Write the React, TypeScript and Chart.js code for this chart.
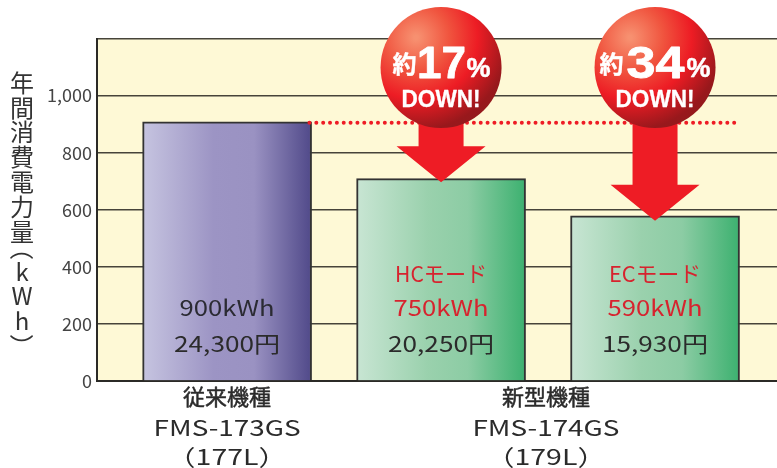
import React, { useEffect, useRef } from "react";
import { Chart, registerables } from "chart.js";

Chart.register(...registerables);

const barX = [0, 1, 2];
const barValues = [908, 709, 579];
const referenceValue = 905;
const dottedX = [0.385, 2.385];
const yMin = 0;
const yMax = 1200;
const yStep = 200;
const xTickValues = [0, 1.49];
const xTickLabels = [
  ["従来機種", "FMS-173GS", "（177L）"],
  ["新型機種", "FMS-174GS", "（179L）"],
];
const yTitleChars = ["年", "間", "消", "費", "電", "力", "量", "（", "k", "W", "h", "）"];
const barModes = ["", "HCモード", "ECモード"];
const barKwh = ["900kWh", "750kWh", "590kWh"];
const barYen = ["24,300円", "20,250円", "15,930円"];
const downBars = [1, 2];
const downPercents = ["17", "34"];

const FONT = '"Noto Sans CJK JP", "Noto Sans", sans-serif';
const BOLD = '"Liberation Sans", "Noto Sans CJK JP", sans-serif';

function fitText(ctx: CanvasRenderingContext2D, text: string, cx: number, y: number, width: number, stroke = 0) {
  const w = ctx.measureText(text).width;
  ctx.save();
  ctx.translate(cx, y);
  ctx.scale(width / w, 1);
  ctx.textAlign = "center";
  ctx.fillText(text, 0, 0);
  if (stroke > 0) {
    ctx.strokeStyle = ctx.fillStyle;
    ctx.lineWidth = stroke;
    ctx.lineJoin = "round";
    ctx.strokeText(text, 0, 0);
  }
  ctx.restore();
}

const decor = {
  id: "decor",
  beforeDraw(chart: any) {
    const { ctx, chartArea: a } = chart;
    ctx.save();
    ctx.fillStyle = "#FEF9D6";
    ctx.fillRect(a.left, a.top, a.right - a.left, a.bottom - a.top);
    ctx.restore();
  },
  afterDatasetsDraw(chart: any) {
    const { ctx, scales } = chart;
    const sx = scales.x;
    const sy = scales.y;
    ctx.save();
    ctx.textBaseline = "alphabetic";

    // y title
    ctx.fillStyle = "#333";
    ctx.font = `24px ${FONT}`;
    ctx.textAlign = "center";
    ctx.textBaseline = "middle";
    const titleYs = [83, 108, 132, 157, 182, 207, 232, 248, 272, 295.5, 321, 346];
    yTitleChars.forEach((c, i) => {
      ctx.save();
      ctx.translate(22, titleYs[i]);
      if (c === "（" || c === "）") ctx.rotate(Math.PI / 2);
      ctx.fillText(c, 0, 0);
      ctx.restore();
    });
    ctx.textBaseline = "alphabetic";

    // labels inside bars
    barX.forEach((x, i) => {
      const cx = sx.getPixelForValue(x);
      ctx.font = `22px ${FONT}`;
      if (barModes[i]) {
        ctx.fillStyle = "#D7232E";
        fitText(ctx, barModes[i], cx, 282, 92);
      }
      ctx.fillStyle = i === 0 ? "#2B2B33" : "#D7232E";
      fitText(ctx, barKwh[i], cx, 316, 95);
      ctx.fillStyle = "#2B2B2B";
      fitText(ctx, barYen[i], cx, 352, 106);
    });

    // arrows and balls
    const tipGap = [3.5, 5];
    const yakuDx = [-36.5, -43.5];
    const pctDx = [37.5, 43.5];
    downBars.forEach((b, i) => {
      const cx = sx.getPixelForValue(barX[b]);
      const tip = sy.getPixelForValue(barValues[b]) + tipGap[i];
      const ballY = 67.5;
      const r = 60.5;
      ctx.fillStyle = "#EE1C25";
      ctx.beginPath();
      ctx.moveTo(cx - 22.5, ballY);
      ctx.lineTo(cx + 22.5, ballY);
      ctx.lineTo(cx + 22.5, tip - 36);
      ctx.lineTo(cx + 44.5, tip - 36);
      ctx.lineTo(cx, tip);
      ctx.lineTo(cx - 44.5, tip - 36);
      ctx.lineTo(cx - 22.5, tip - 36);
      ctx.closePath();
      ctx.fill();

      const g = ctx.createRadialGradient(cx - 25, ballY - 30, 2, cx - 25, ballY - 30, 105);
      g.addColorStop(0, "#F79070");
      g.addColorStop(0.3, "#F0553F");
      g.addColorStop(0.58, "#ED1C24");
      g.addColorStop(0.88, "#98181C");
      g.addColorStop(1, "#921A1C");
      ctx.fillStyle = g;
      ctx.beginPath();
      ctx.arc(cx, ballY, r, 0, Math.PI * 2);
      ctx.fill();

      ctx.fillStyle = "#FFFFFF";
      ctx.font = `bold 24px ${BOLD}`;
      fitText(ctx, "約", cx + yakuDx[i], 73, 24, 0.4);
      ctx.font = `bold 45px ${BOLD}`;
      fitText(ctx, downPercents[i], cx + 0.5, 78, i === 0 ? 49 : 58, 0.8);
      ctx.font = `bold 28px ${BOLD}`;
      fitText(ctx, "%", cx + pctDx[i], 77, 24, 0.5);
      ctx.font = `bold 23px ${BOLD}`;
      fitText(ctx, "DOWN!", cx, 107, 79, 0.3);
    });
    ctx.restore();
  },
};

const tickLineWidths = [88, 147, 120];
const tickLineYs = [405, 435.6, 465];
const tickLineStroke = [0.5, 0, 0];

export default function App() {
  const ref = useRef<HTMLCanvasElement>(null);
  useEffect(() => {
    document.body.style.margin = "0";
    document.body.style.background = "#fff";
    const stops = [
      ["#C6C4E0", "#9C94C4", "#9A92C2", "#514A8A"],
      ["#C8E5D3", "#9AD1AD", "#8CCCA4", "#3DB170"],
    ];
    const chart = new Chart(ref.current!, {
      type: "bar",
      data: {
        datasets: [
          {
            type: "line",
            data: dottedX.map((x) => ({ x, y: referenceValue })),
            borderColor: "#EE1C25",
            borderWidth: 4,
            borderDash: [0, 6.85],
            borderCapStyle: "round",
            pointRadius: 0,
            order: 0,
          },
          {
            type: "bar",
            data: barX.map((x, i) => ({ x, y: barValues[i] })),
            barThickness: 169,
            borderColor: "#333333",
            borderWidth: 2,
            order: 1,
            backgroundColor: (c: any) => {
              const ch = c.chart;
              if (!ch.chartArea || c.dataIndex === undefined) return "#999";
              const cx = ch.scales.x.getPixelForValue(barX[c.dataIndex]);
              const g = ch.ctx.createLinearGradient(cx - 84, 0, cx + 84, 0);
              const s = stops[c.dataIndex === 0 ? 0 : 1];
              g.addColorStop(0, s[0]);
              g.addColorStop(0.42, s[1]);
              g.addColorStop(0.66, s[2]);
              g.addColorStop(1, s[3]);
              return g;
            },
          },
        ],
      } as any,
      options: {
        responsive: false,
        animation: false,
        layout: { padding: { top: 38.5, left: 0, right: 0, bottom: 0 } },
        plugins: { legend: { display: false }, tooltip: { enabled: false }, title: { display: false } },
        scales: {
          x: {
            type: "linear",
            offset: false,
            min: -0.608,
            max: 2.57,
            grid: { display: false, offset: false },
            border: { color: "#2B2A26", width: 2 },
            afterFit: (s: any) => {
              s.height = 87;
            },
            afterBuildTicks: (s: any) => {
              s.ticks = xTickValues.map((value) => ({ value }));
            },
            afterUpdate: (s: any) => {
              s.drawLabels = () => {
                const ctx = s.ctx;
                ctx.save();
                ctx.fillStyle = "#2B2B2B";
                ctx.textBaseline = "alphabetic";
                ctx.font = `22px ${FONT}`;
                s.ticks.forEach((t: any) => {
                  const x = s.getPixelForValue(t.value);
                  (t.label as string[]).forEach((line, i) => {
                    fitText(ctx, line, x, tickLineYs[i], tickLineWidths[i], tickLineStroke[i]);
                  });
                });
                ctx.restore();
              };
            },
            ticks: {
              autoSkip: false,
              maxRotation: 0,
              padding: 5,
              color: "#2B2B2B",
              font: { family: FONT, size: 20, lineHeight: 1.45 },
              callback: (v: any) => xTickLabels[xTickValues.indexOf(v)] ?? "",
            },
          },
          y: {
            min: yMin,
            max: yMax,
            ticks: {
              stepSize: yStep,
              padding: 5,
              color: "#444",
              font: { family: FONT, size: 18 },
              callback: (v: any) => (v === yMax ? "" : Number(v).toLocaleString("en-US")),
            },
            grid: { color: "#47443A", lineWidth: 1.5, tickLength: 0 },
            border: { color: "#2B2A26", width: 2 },
            afterFit: (s: any) => {
              s.width = 97;
            },
          },
        },
      },
      plugins: [decor],
    } as any);
    return () => chart.destroy();
  }, []);
  return <canvas ref={ref} width={777} height={468} style={{ display: "block" }} />;
}
